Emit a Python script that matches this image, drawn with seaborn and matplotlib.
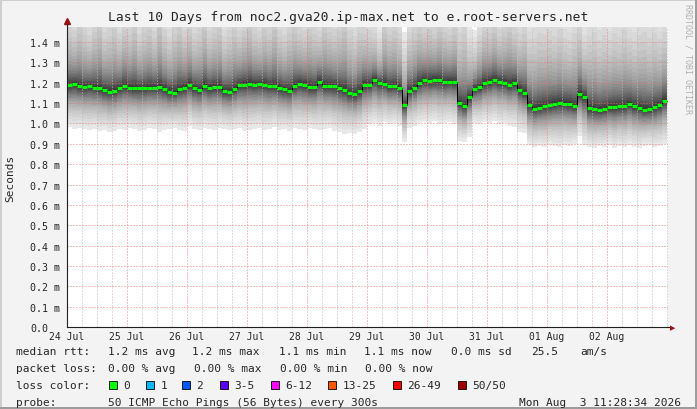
import numpy as np
import matplotlib
matplotlib.use("Agg")
import matplotlib.pyplot as plt
from matplotlib.patches import Rectangle
from matplotlib.lines import Line2D
import seaborn as sns

# ---- data (ms), one value per 2h step, 24 Jul 00:00 .. 03 Aug 00:00 ----
median_ms = [
    1.187, 1.193, 1.185, 1.178, 1.183, 1.176, 1.175, 1.163, 1.157, 1.160, 1.172, 1.186,
    1.176, 1.175, 1.172, 1.172, 1.176, 1.176, 1.180, 1.168, 1.155, 1.152, 1.168, 1.175,
    1.190, 1.172, 1.165, 1.185, 1.175, 1.180, 1.179, 1.158, 1.155, 1.170, 1.187, 1.190,
    1.195, 1.190, 1.193, 1.190, 1.182, 1.183, 1.175, 1.167, 1.161, 1.185, 1.195, 1.190,
    1.179, 1.178, 1.205, 1.185, 1.185, 1.182, 1.172, 1.163, 1.148, 1.143, 1.158, 1.190,
    1.190, 1.212, 1.197, 1.195, 1.183, 1.184, 1.175, 1.090, 1.160, 1.175, 1.200, 1.212,
    1.210, 1.215, 1.212, 1.203, 1.206, 1.203, 1.100, 1.085, 1.130, 1.170, 1.178, 1.198,
    1.205, 1.213, 1.205, 1.200, 1.190, 1.200, 1.165, 1.150, 1.090, 1.072, 1.078, 1.085,
    1.090, 1.097, 1.100, 1.098, 1.097, 1.085, 1.145, 1.130, 1.075, 1.070, 1.065, 1.070,
    1.080, 1.080, 1.085, 1.085, 1.097, 1.086, 1.077, 1.068, 1.070, 1.080, 1.090, 1.112,
]
min_ms = [
    0.985, 0.975, 0.980, 0.975, 0.970, 0.975, 0.965, 0.970, 0.960, 0.965, 0.975, 0.970,
    0.980, 0.975, 0.965, 0.970, 0.980, 0.975, 0.960, 0.970, 0.975, 0.980, 0.970, 0.965,
    0.990, 0.975, 0.970, 0.980, 0.975, 0.970, 0.980, 0.975, 0.970, 0.975, 0.980, 0.965,
    0.970, 0.975, 0.980, 0.970, 0.975, 0.985, 0.970, 0.975, 0.965, 0.980, 0.975, 0.970,
    0.980, 0.975, 0.970, 0.975, 0.980, 0.965, 0.960, 0.950, 0.955, 0.950, 0.960, 0.975,
    0.995, 1.000, 0.990, 1.005, 0.995, 1.000, 0.990, 0.910, 0.980, 0.990, 1.000, 1.005,
    1.000, 1.010, 0.995, 1.000, 1.005, 0.995, 0.915, 0.910, 0.935, 1.000, 0.995, 1.005,
    1.000, 1.010, 0.995, 1.000, 0.990, 0.985, 0.960, 0.955, 0.895, 0.885, 0.890, 0.885,
    0.895, 0.890, 0.885, 0.895, 0.890, 0.900, 0.940, 0.895, 0.885, 0.880, 0.890, 0.885,
    0.895, 0.880, 0.890, 0.885, 0.895, 0.885, 0.880, 0.890, 0.895, 0.885, 0.890, 0.900,
]
max_ms = [
    1.62, 1.58, 1.66, 1.60, 1.55, 1.63, 1.70, 1.58, 1.61, 1.66, 1.57, 1.64,
    1.60, 1.68, 1.56, 1.62, 1.65, 1.58, 1.72, 1.60, 1.55, 1.63, 1.67, 1.59,
    1.64, 1.57, 1.61, 1.69, 1.58, 1.62, 1.66, 1.55, 1.60, 1.65, 1.58, 1.63,
    1.68, 1.60, 1.57, 1.64, 1.61, 1.70, 1.59, 1.56, 1.63, 1.66, 1.60, 1.58,
    1.65, 1.61, 1.57, 1.67, 1.62, 1.59, 1.64, 1.70, 1.60, 1.56, 1.63, 1.60,
    1.58, 1.55, 1.48, 1.66, 1.60, 1.63, 1.57, 1.45, 1.58, 1.62, 1.65, 1.60,
    1.63, 1.59, 1.66, 1.61, 1.58, 1.64, 1.60, 1.67, 1.50, 1.46, 1.55, 1.62,
    1.60, 1.65, 1.58, 1.62, 1.68, 1.60, 1.57, 1.63, 1.56, 1.58, 1.61, 1.60,
    1.62, 1.58, 1.63, 1.57, 1.55, 1.61, 1.64, 1.52, 1.59, 1.62, 1.57, 1.60,
    1.56, 1.61, 1.58, 1.63, 1.57, 1.55, 1.60, 1.62, 1.58, 1.61, 1.56, 1.60,
]
day_labels = ["24 Jul", "25 Jul", "26 Jul", "27 Jul", "28 Jul",
              "29 Jul", "30 Jul", "31 Jul", "01 Aug", "02 Aug"]
y_ticks = [0.0, 0.1, 0.2, 0.3, 0.4, 0.5, 0.6, 0.7, 0.8, 0.9, 1.0, 1.1, 1.2, 1.3, 1.4]
loss_names = ["0", "1", "2", "3-5", "6-12", "13-25", "26-49", "50/50"]
loss_colors = ["#00ff00", "#00b8ff", "#0059ff", "#5e00ff", "#ff00ff",
               "#ff5500", "#ff0000", "#a10000"]

W, H = 697, 410

sns.set_style("white")
plt.rcParams["font.family"] = ["DejaVu Sans Mono"]

fig = plt.figure(figsize=(W / 100, H / 100), dpi=100, facecolor="#f3f3f3")

def fx(x):
    return x / W

def fy(y):
    return 1 - y / H

ax = fig.add_axes([fx(67), fy(328), fx(668) - fx(67), fy(28) - fy(328)])
ax.set_facecolor("white")

med = np.array(median_ms)
lo = np.array(min_ms)
hi = np.array(max_ms)
n = len(med)
x_edges = np.arange(n + 1) / 12.0

def ext(a):
    return np.append(a, a[-1])

# smoke: 24 stacked bands (ping pairs), light outside, dark next to the median
nlayers = 24
for i in range(nlayers):
    u = 1 - 2 * (i / 48.0)
    f_lo = 0.55 * u + 0.45 * u ** 4
    f_up = 0.35 * u + 0.65 * u ** 4
    low = med - (med - lo) * f_lo
    up = med + (hi - med) * f_up
    g = int(round(232 - (232 - 57) * i / (nlayers - 1)))
    col = "#%02x%02x%02x" % (g, g, g)
    ax.fill_between(x_edges, ext(low), ext(up), step="post", color=col,
                    linewidth=0, antialiased=False, zorder=1)

# median: black risers + green steps
sns.lineplot(x=x_edges, y=ext(med), drawstyle="steps-post", color="black",
             linewidth=0.7, ax=ax, zorder=4)
ax.hlines(med, x_edges[:-1], x_edges[1:], colors="#00ff00", linewidth=2.2,
          zorder=5)

ax.set_xlim(0, 10 * 601 / 600)
ax.set_ylim(0, 1.474)

ax.set_xticks(np.arange(10))
ax.set_xticklabels(day_labels)
ax.set_xticks(np.arange(0, 10.01, 0.25), minor=True)
ax.set_yticks(y_ticks)
ax.set_yticklabels(["0.0"] + ["%.1f m" % v for v in y_ticks[1:]])

ax.set_axisbelow(False)
dots = (0, (1, 2))
ax.grid(True, which="minor", axis="x", color="#bdbdbd", linestyle=dots,
        linewidth=0.72)
ax.grid(True, which="major", axis="both", color="#f07070", alpha=0.85,
        linestyle=dots, linewidth=0.72)

for s in ["top", "right"]:
    ax.spines[s].set_visible(False)
for s in ["left", "bottom"]:
    ax.spines[s].set_color("#202020")
    ax.spines[s].set_linewidth(0.8)
    ax.spines[s].set_zorder(6)

ax.tick_params(axis="x", which="major", length=3, direction="inout",
               color="#404040", labelsize=7, pad=1.5)
ax.tick_params(axis="x", which="minor", length=2, direction="in",
               color="#808080")
ax.tick_params(axis="y", which="major", length=2, direction="in",
               color="#404040", labelsize=7.2, pad=26.6)
for t in ax.get_yticklabels():
    t.set_horizontalalignment("left")

# axis arrows
ax.plot([0], [1.474 + 0.03], marker="^", markersize=5, color="#9a1414",
        clip_on=False, zorder=7)
fig.add_artist(Line2D([fx(668), fx(671)], [fy(328), fy(328)], color="#202020",
                      linewidth=0.8))
fig.add_artist(Line2D([fx(67), fx(67)], [fy(28), fy(25)], color="#202020",
                      linewidth=0.8))
fig.text(fx(673), fy(328), u"\u25B6", color="#9a1414", fontsize=5,
         ha="center", va="center", family="DejaVu Sans")

# titles
fig.text(fx(348), fy(18), "Last 10 Days from noc2.gva20.ip-max.net to e.root-servers.net",
         ha="center", va="center", fontsize=9.4)
fig.text(fx(10), fy(178), "Seconds", rotation=90, ha="center", va="center",
         fontsize=8)
fig.text(fx(688), fy(4), "RRDTOOL / TOBI OETIKER", rotation=270, ha="center",
         va="top", fontsize=6, color="#b0b0b0")

# legend rows
fs = 8
row1 = [(16, "median rtt:"), (107.6, "1.2 ms avg"), (192.4, "1.2 ms max"),
        (279, "1.1 ms min"), (364.4, "1.1 ms now"), (451, "0.0 ms sd"),
        (531, "25.5"), (580, "am/s")]
row2 = [(16, "packet loss:"), (107.6, "0.00 % avg"), (194, "0.00 % max"),
        (280, "0.00 % min"), (365, "0.00 % now")]
for xp, txt in row1:
    fig.text(fx(xp), fy(352), txt, ha="left", va="center", fontsize=fs)
for xp, txt in row2:
    fig.text(fx(xp), fy(369), txt, ha="left", va="center", fontsize=fs)

fig.text(fx(16), fy(386), "loss color:", ha="left", va="center", fontsize=fs)
sq_x = [109, 146, 182, 219.5, 271, 328, 393, 458]
for xp, name, col in zip(sq_x, loss_names, loss_colors):
    fig.add_artist(Rectangle((fx(xp), fy(390)), fx(8), 8 / H, facecolor=col,
                             edgecolor="black", linewidth=0.6))
    fig.text(fx(xp + 14.5), fy(386), name, ha="left", va="center", fontsize=fs)

fig.text(fx(16), fy(403), "probe:", ha="left", va="center", fontsize=fs)
fig.text(fx(107.6), fy(403), "50 ICMP Echo Pings (56 Bytes) every 300s",
         ha="left", va="center", fontsize=fs)
fig.text(fx(681), fy(403), "Mon Aug  3 11:28:34 2026", ha="right",
         va="center", fontsize=fs)

# bevel border
fig.add_artist(Rectangle((0, fy(2)), 1, 2 / H, facecolor="#cfcfcf", linewidth=0))
fig.add_artist(Rectangle((0, 0), fx(2), 1, facecolor="#cfcfcf", linewidth=0))
fig.add_artist(Rectangle((0, 0), 1, 2 / H, facecolor="#9c9c9c", linewidth=0))
fig.add_artist(Rectangle((fx(695), 0), fx(2), 1, facecolor="#9c9c9c", linewidth=0))

fig.savefig("out.png", dpi=100, facecolor=fig.get_facecolor())
